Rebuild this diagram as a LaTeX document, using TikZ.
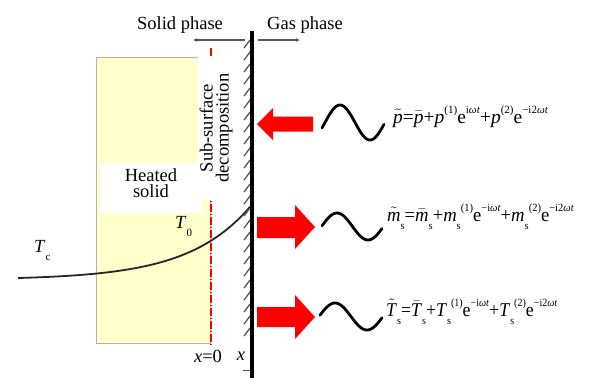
\documentclass[tikz,border=0pt]{standalone}
\usepackage{fontspec}
\setmainfont{Liberation Serif}
\usetikzlibrary{arrows.meta}
\definecolor{solidyellow}{RGB}{255,255,204}
\definecolor{hatchgray}{RGB}{85,85,85}
\newcommand\sps[1]{\raisebox{0.48em}{\fontsize{11}{11}\selectfont #1}}
\newcommand\sbs[1]{\raisebox{-0.45em}{\fontsize{11}{11}\selectfont #1}}
\newcommand\tlde[1]{\ensuremath{\tilde{\mbox{\textit{#1}}}}}
\newcommand\brr[1]{\ensuremath{\bar{\mbox{\textit{#1}}}}}
\tikzset{
  lbl/.style={inner sep=0pt, font=\fontsize{18.5}{16}\selectfont},
  eqn/.style={inner sep=0pt, anchor=base west, font=\fontsize{19.5}{20}\selectfont},
  phasearrow/.style={draw=hatchgray, line width=1.2pt},
  blockarrow/.style={fill=red},
  wave/.style={line width=2.8pt, line cap=round, samples=50},
  hatchmark/.style={draw=hatchgray, line width=1.3pt},
}
\begin{document}
\begin{tikzpicture}[x=1pt,y=-1pt]
\useasboundingbox (0,0) rectangle (589,384);
% heated solid block
\filldraw[fill=solidyellow, draw=gray!60, line width=1pt] (96,57) rectangle (210,343);
% x=0 plane
\draw[red, line width=1.6pt, dash pattern=on 8pt off 2pt on 1pt off 2pt] (211,48) -- (211,345);
% white label backgrounds
\fill[white] (100,163) rectangle (202,213);
\fill[white] (198,56) rectangle (242,200);
% temperature profile
\draw[line width=1.8pt, black!85, domain=18:250, samples=60] plot (\x, {278-1.78*(exp(0.016*(\x-18))-1)});
% labels
\node[lbl, anchor=base] (solid) at (180,29) {Solid phase};
\node[lbl, anchor=base] (gas) at (305,29) {Gas phase};
\node[lbl, align=center] (heated) at (151,183) {Heated\\solid};
\node[lbl, align=center, rotate=90] (subsurf) at (216,128) {Sub-surface\\decomposition};
\node[lbl, anchor=base west] (tc) at (34,252) {\textit{T}\sbs{c}};
\node[lbl, anchor=base west] (t0) at (175,228) {\textit{T}\sbs{0}};
\node[lbl, anchor=base] (xzero) at (208,362) {\textit{x}=0};
\node[lbl, anchor=base] (xaxis) at (241,360) {\textit{x}};
% hatching of surface
\foreach \y in {44,56,...,332} \draw[hatchmark] (244,\y+4) -- (250,\y-4);
\draw[hatchmark, line width=1pt] (243,370) -- (250,370);
% surface
\draw[line width=3.5pt] (252,31) -- (252,378);
% phase arrows
\coordinate (sl) at (193,40); \coordinate (sr) at (245,40);
\coordinate (gl) at (258,40); \coordinate (gr) at (300,40);
\draw[phasearrow, {Latex[length=4pt,width=4pt]}-] (sl) -- (sr);
\draw[phasearrow, -{Latex[length=4pt,width=4pt]}] (gl) -- (gr);
% block arrows
\fill[blockarrow] (257,124) -- (273,108) -- (273,116.5) -- (313,116.5) -- (313,131.5) -- (273,131.5) -- (273,140) -- cycle;
\fill[blockarrow] (257,217) -- (295,217) -- (295,205) -- (315,227) -- (295,249) -- (295,238) -- (257,238) -- cycle;
\fill[blockarrow] (257,307) -- (295,307) -- (295,295) -- (315,317) -- (295,339) -- (295,327) -- (257,327) -- cycle;
% waves
\draw[wave, domain=322:384] plot (\x, {122.5-17.5*cos((\x-340)*6)});
\draw[wave, domain=322:382] plot (\x, {226.5-13.5*cos((\x-337)*5.806)});
\draw[wave, domain=320:382] plot (\x, {316.5-13.5*cos((\x-335)*5.625)});
% equations
\node[eqn] (eqp) at (393,123) {\tlde{p}=\brr{p}+\textit{p}\sps{(1)}e\sps{i\textit{ωt}}+\textit{p}\sps{(2)}e\sps{−i2\textit{ωt}}};
\node[eqn] (eqm) at (387,221) {\scalebox{0.955}[1]{\tlde{m}\sbs{s}=\brr{m}\sbs{s}+\textit{m}\sbs{s}\sps{(1)}e\sps{−i\textit{ωt}}+\textit{m}\sbs{s}\sps{(2)}e\sps{−i2\textit{ωt}}}};
\node[eqn] (eqt) at (386,316) {\scalebox{0.915}[1]{\tlde{T}\sbs{s}=\brr{T}\sbs{s}+\textit{T}\sbs{s}\sps{(1)}e\sps{−i\textit{ωt}}+\textit{T}\sbs{s}\sps{(2)}e\sps{−i2\textit{ωt}}}};
\end{tikzpicture}
\end{document}
